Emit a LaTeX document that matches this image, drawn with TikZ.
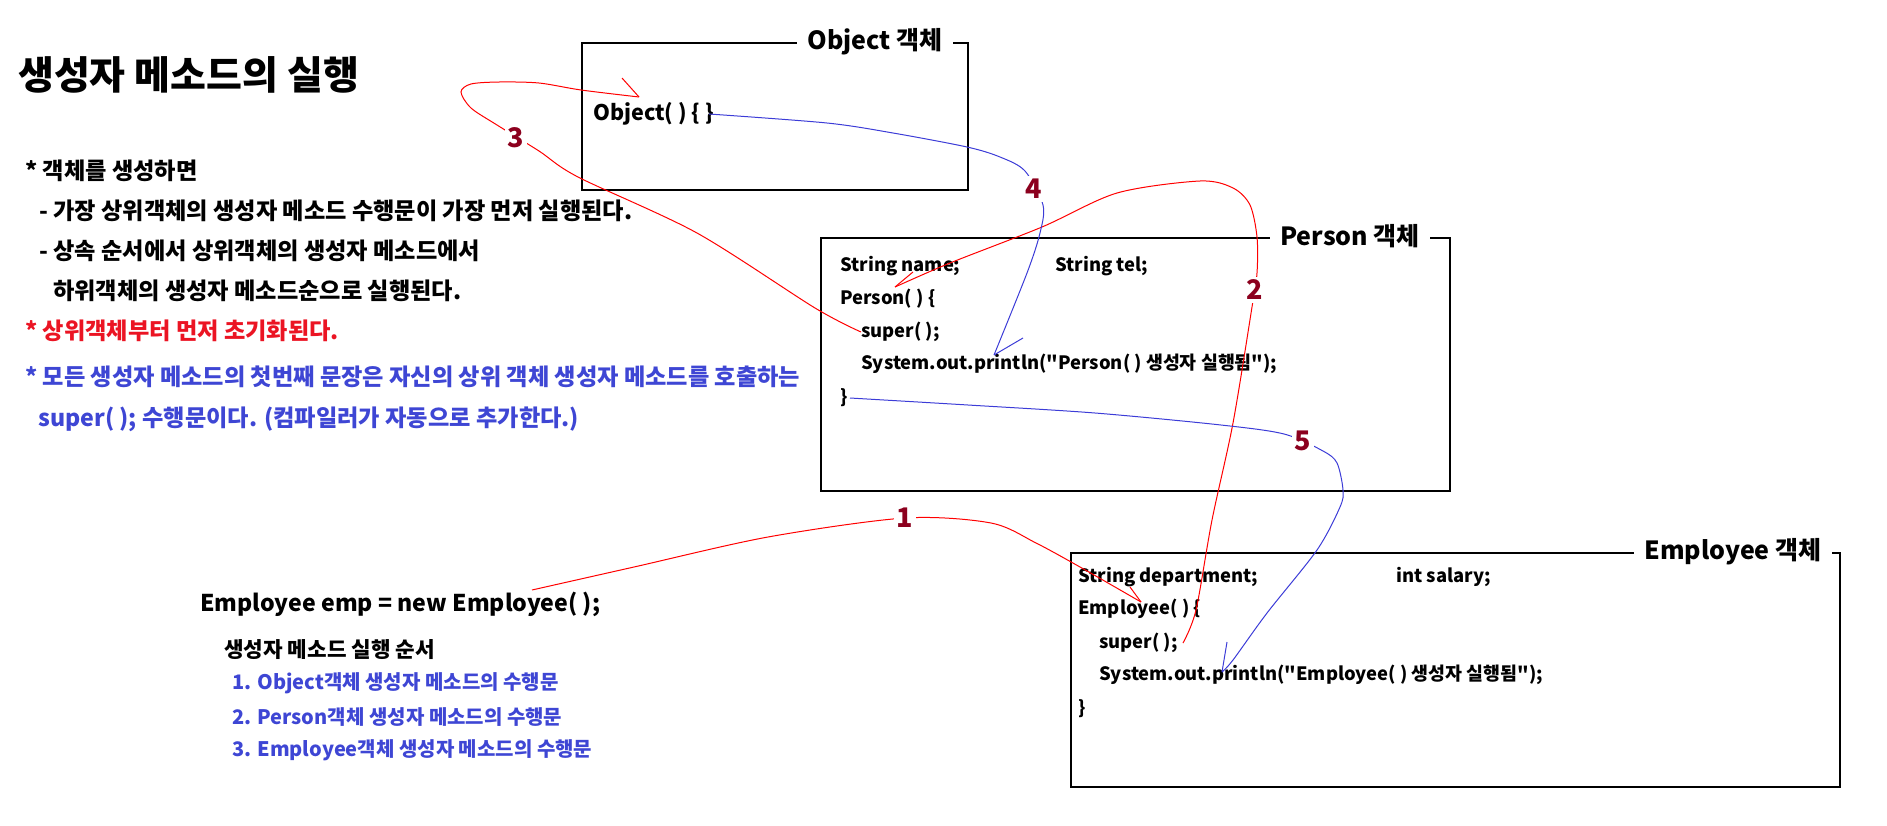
\documentclass[tikz,border=0pt]{standalone}
\usepackage{fontspec}
\setmainfont{Noto Sans CJK KR}[Ligatures=TeXOff]
\definecolor{lred}{RGB}{255,0,0}
\definecolor{lblue}{RGB}{60,60,215}
\definecolor{tred}{RGB}{235,20,35}
\definecolor{tblue}{RGB}{62,70,212}
\definecolor{numred}{RGB}{140,0,30}
\tikzset{
  fs/.style={font=\bfseries\fontsize{#1}{#1}\selectfont},
  txt/.style={anchor=west, inner sep=0pt, fs=#1},
  objbox/.style={draw=black, line width=1.5pt, anchor=north west, inner sep=0pt},
  boxtitle/.style={fill=white, inner xsep=10pt, inner ysep=2pt, fs=25},
  steplabel/.style={fill=white, inner sep=3pt, text=numred, fs=27},
  redline/.style={draw=lred, line width=1pt},
  blueline/.style={draw=lblue, line width=1pt},
}
\begin{document}
\begin{tikzpicture}[x=1pt,y=-1pt]
\useasboundingbox (0,0) rectangle (1887,825);

% left text
\node[txt=39] (title) at (18,75) {생성자 메소드의 실행};
\node[txt=23.2] (b1) at (25,171) {* 객체를 생성하면};
\node[txt=23.2] (b2) at (39,211) {- 가장 상위객체의 생성자 메소드 수행문이 가장 먼저 실행된다.};
\node[txt=23.2] (b3) at (39,251) {- 상속 순서에서 상위객체의 생성자 메소드에서};
\node[txt=23.2] (b4) at (53,291) {하위객체의 생성자 메소드순으로 실행된다.};
\node[txt=23.2, text=tred] (b5) at (25,331) {* 상위객체부터 먼저 초기화된다.};
\node[txt=23.2, text=tblue] (b6) at (25,377) {* 모든 생성자 메소드의 첫번째 문장은 자신의 상위 객체 생성자 메소드를 호출하는};
\node[txt=23.2, text=tblue] (b7) at (38,419) {super( ); 수행문이다. (컴파일러가 자동으로 추가한다.)};

% boxes
\node[objbox, minimum width=386, minimum height=147] (objbox) at (581,42) {};
\node[boxtitle] (objtitle) at (875,42) {Object 객체};
\node[objbox, minimum width=629, minimum height=253] (perbox) at (820,237) {};
\node[boxtitle] (pertitle) at (1350,236) {Person 객체};
\node[objbox, minimum width=769, minimum height=234] (empbox) at (1070,552) {};
\node[boxtitle] (emptitle) at (1733,552) {Employee 객체};

% Object box
\node[txt=21.5] (objctor) at (593,114) {Object( ) \{ \}};

% Person box
\node[txt=18.4] (pname) at (840,266) {String name;};
\node[txt=18.4] (ptel) at (1055,266) {String tel;};
\node[txt=18.4] (pctor) at (840,299) {Person( ) \{};
\node[txt=18.4] (psuper) at (861,332) {super( );};
\node[txt=18.4] (pprint) at (861,364) {System.out.println("Person( ) 생성자 실행됨");};
\node[txt=18.4] (pend) at (840,398) {\}};

% Employee box
\node[txt=18.4] (ename) at (1078,577) {String department;};
\node[txt=18.4] (esal) at (1396,577) {int salary;};
\node[txt=18.4] (ector) at (1078,609) {Employee( ) \{};
\node[txt=18.4] (esuper) at (1099,643) {super( );};
\node[txt=18.4] (eprint) at (1099,675) {System.out.println("Employee( ) 생성자 실행됨");};
\node[txt=18.4] (eend) at (1078,709) {\}};

% bottom left
\node[txt=23.1] (newemp) at (200,604) {Employee emp = new Employee( );};
\node[txt=21.3] (order) at (224,650) {생성자 메소드 실행 순서};
\node[txt=20, text=tblue] (o1) at (232,683) {1. Object객체 생성자 메소드의 수행문};
\node[txt=20, text=tblue] (o2) at (232,717) {2. Person객체 생성자 메소드의 수행문};
\node[txt=20, text=tblue] (o3) at (232,750) {3. Employee객체 생성자 메소드의 수행문};

% connector end points
\coordinate (a1) at (532,590);
\coordinate (t1) at (1141,602);
\coordinate (a2) at (1183,643);
\coordinate (t2) at (895,287);
\coordinate (t3) at (639,97);
\coordinate (a4) at (709,114);
\coordinate (t4) at (994,355);
\coordinate (a5) at (850,398);
\coordinate (t5) at (1222,672);
\coordinate (c1) at (905,518);
\coordinate (c2) at (1255,290);
\coordinate (c3) at (516,138);
\coordinate (c4) at (1034,189);
\coordinate (c5) at (1303,441);

% 1
\draw[redline] plot[smooth] coordinates {(a1) (634,567) (768,537) (c1) (991,523) (1036,543) (1080,567) (t1)};
\draw[redline] (t1) -- ++(-11,-15);
% 2
\draw[redline] plot[smooth] coordinates {(a2) (1196,610) (1212,520) (1233,423) (1252,307) (1257,273) (1257,237) (1250,205) (1233,188) (1200,181) (1117,193) (1042,227) (950,263) (t2)};
\draw[redline] (t2) -- ++(18,-15);
% 3
\draw[redline] plot[smooth] coordinates {(psuper.west) (815,308) (697,233) (578,177) (539,151) (497,125) (471,108) (461,92) (471,84) (499,82) (539,83) (581,90) (t3)};
\draw[redline] (t3) -- ++(-17,-19);
% 4
\draw[blueline] plot[smooth] coordinates {(a4) (827,123) (893,133) (967,147) (1000,157) (1025,171) (1043,205) (1040,233) (1027,273) (t4)};
\draw[blueline] (t4) -- ++(29,-17);
% 5
\draw[blueline] plot[smooth] coordinates {(a5) (968,405) (1095,413) (1221,425) (1284,434) (1323,451) (1337,463) (1343,490) (1340,507) (1317,550) (1267,613) (1233,660) (t5)};
\draw[blueline] (t5) -- ++(5,-30);

% step labels
\node[steplabel] (n1) at (c1) {1};
\node[steplabel] (n2) at (c2) {2};
\node[steplabel] (n3) at (c3) {3};
\node[steplabel] (n4) at (c4) {4};
\node[steplabel] (n5) at (c5) {5};
\end{tikzpicture}
\end{document}
